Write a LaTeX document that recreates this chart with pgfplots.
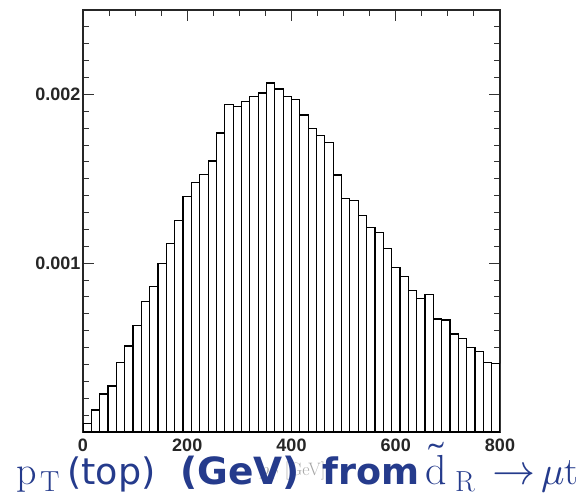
\documentclass[border=0pt]{standalone}
\usepackage{fontspec}
\usepackage{unicode-math}
\setmathfont{Latin Modern Math}
\setmathrm{Latin Modern Roman}
\usepackage{pgfplots}
\pgfplotsset{compat=1.18}
\setmainfont{Liberation Sans}
\newfontfamily\dejavu{DejaVu Sans}
\newfontfamily\lmserif{Latin Modern Roman}
\definecolor{lblue}{HTML}{253B8C}
\begin{document}
\begin{tikzpicture}[x=1pt,y=1pt]
\useasboundingbox (0,0) rectangle (585,496);
\begin{axis}[
  at={(83pt,64pt)}, anchor=south west,
  scale only axis, width=417pt, height=422pt,
  xmin=0, xmax=800, ymin=0, ymax=0.0025,
  xtick={0,200,400,600,800},
  xticklabels={0,200,400,600,800},
  minor xtick={50,100,150,250,300,350,450,500,550,650,700,750},
  ytick={0.001,0.002},
  yticklabels={0.001,0.002},
  minor ytick={0.0001,0.0002,0.0003,0.0004,0.0005,0.0006,0.0007,0.0008,0.0009,0.0011,0.0012,0.0013,0.0014,0.0015,0.0016,0.0017,0.0018,0.0019,0.0021,0.0022,0.0023,0.0024},
  scaled y ticks=false,
  tick align=inside,
  major tick length=11pt, minor tick length=6pt,
  axis line style={line width=1.3pt, black!85},
  tick style={line width=1pt, black!80},
  tick label style={font=\bfseries\fontsize{18}{18}\selectfont, text=black!85},
  yticklabel style={xshift=1pt},
  xticklabel style={yshift=-3pt},
]
\addplot[ybar interval, fill=white, draw=black, line width=1.2pt] coordinates {
(0,0.00005) (16,0.00013) (32,0.000225) (48,0.000272) (64,0.00041) (80,0.000509)
(96,0.000631) (112,0.000773) (128,0.000864) (144,0.000998) (160,0.001117)
(176,0.001254) (192,0.001396) (208,0.001479) (224,0.001527) (240,0.001605)
(256,0.001771) (272,0.001941) (288,0.001929) (304,0.00196) (320,0.001988)
(336,0.002008) (352,0.002067) (368,0.002032) (384,0.001988) (400,0.001972)
(416,0.001878) (432,0.001799) (448,0.001757) (464,0.001716) (480,0.001523)
(496,0.001381) (512,0.001373) (528,0.001282) (544,0.001211) (560,0.001183)
(576,0.001086) (592,0.000974) (608,0.000923) (624,0.000836) (640,0.000793)
(656,0.000813) (672,0.00067) (688,0.000663) (704,0.00058) (720,0.000556)
(736,0.000501) (752,0.000477) (768,0.00041) (784,0.000406) (800,0.000406)
};
\end{axis}
% faint original axis title behind the overlay
\node[anchor=base, inner sep=0pt, text=black!35, font=\lmserif\fontsize{18}{18}\selectfont] at (293,21) {$p_{T}$ [GeV]};
% overlay label
\begin{scope}[every node/.style={anchor=base west, inner sep=0pt, text=lblue}]
\node[font=\lmserif\fontsize{40}{40}\selectfont] at (16,12) {p};
\node[font=\lmserif\fontsize{29}{29}\selectfont] at (40,5) {T};
\node[font=\dejavu\fontsize{36.5}{36.5}\selectfont] at (67,12) {(top)};
\node[font=\dejavu\bfseries\fontsize{37.5}{37.5}\selectfont] at (180,12) {(GeV)};
\node[font=\dejavu\bfseries\fontsize{36.5}{36.5}\selectfont] at (322,12) {from};
\node[font=\fontsize{42}{42}\selectfont] at (425,12) {$\tilde{\mathrm{d}}$};
\node[font=\lmserif\fontsize{29}{29}\selectfont] at (455,5) {R};
\node[font=\fontsize{43}{43}\selectfont] at (492,12) {$\rightarrow$};
\node[font=\fontsize{39}{39}\selectfont] at (541,12) {$\mu\mathrm{t}$};
\end{scope}
\end{tikzpicture}
\end{document}
